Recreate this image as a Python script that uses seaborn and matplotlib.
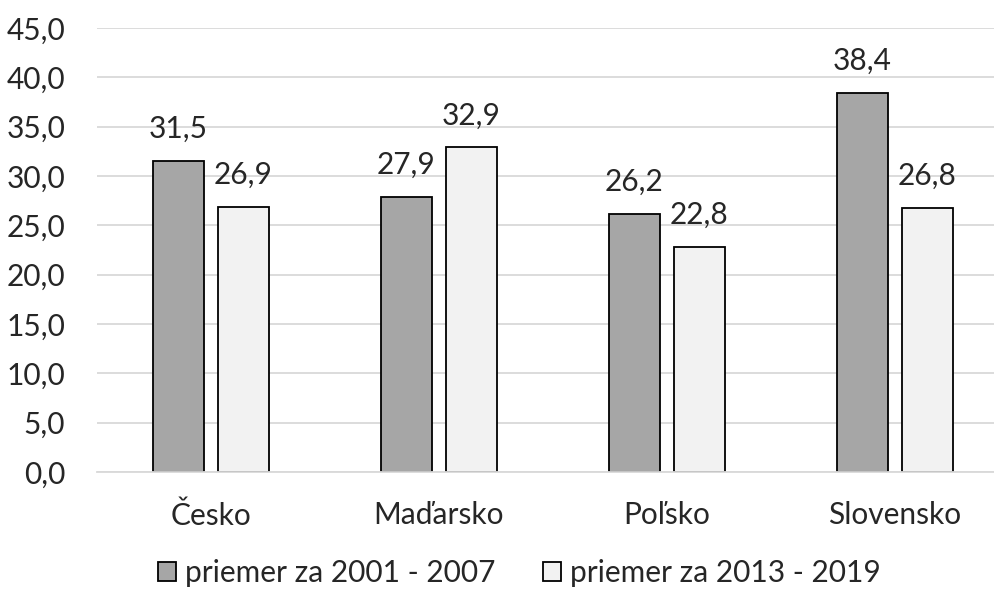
import pandas as pd
import matplotlib.pyplot as plt
import seaborn as sns

countries = ["Česko", "Maďarsko", "Poľsko", "Slovensko"]
series_names = ["priemer za 2001 - 2007", "priemer za 2013 - 2019"]
values_2001_2007 = [31.5, 27.9, 26.2, 38.4]
values_2013_2019 = [26.9, 32.9, 22.8, 26.8]
y_ticks = [0, 5, 10, 15, 20, 25, 30, 35, 40, 45]

df = pd.DataFrame({
    "krajina": countries * 2,
    "obdobie": [series_names[0]] * 4 + [series_names[1]] * 4,
    "hodnota": values_2001_2007 + values_2013_2019,
})

sns.set_style("white")
plt.rcParams['font.family'] = ['Lato', 'DejaVu Sans']
fs = 21.5

fig, ax = plt.subplots(figsize=(9.95, 5.9), dpi=100)
sns.barplot(data=df, x="krajina", y="hodnota", hue="obdobie",
            palette=["#A6A6A6", "#F2F2F2"], edgecolor="black", linewidth=1.3,
            width=0.57, gap=0.215, ax=ax, errorbar=None)

for cont in ax.containers:
    ax.bar_label(cont, labels=[f"{v:.1f}".replace(".", ",") for v in cont.datavalues],
                 padding=13, fontsize=fs)

ax.set_ylim(0, 45)
ax.set_yticks(y_ticks)
ax.set_yticklabels([f"{t:.1f}".replace(".", ",") for t in y_ticks], fontsize=fs)
ax.tick_params(axis="x", labelsize=fs, length=0, pad=21)
ax.tick_params(axis="y", length=0, pad=23)
ax.set_xlabel("")
ax.set_ylabel("")
ax.yaxis.grid(True, color="#D9D9D9", linewidth=1.3)
ax.set_axisbelow(True)
for s in ["top", "right", "left"]:
    ax.spines[s].set_visible(False)
ax.spines["bottom"].set_color("#D9D9D9")
ax.spines["bottom"].set_linewidth(1.3)

ax.legend(loc="center", bbox_to_anchor=(0.463, -0.228), ncol=2, frameon=False,
          fontsize=fs, handlelength=0.6, handleheight=0.6, handletextpad=0.3,
          columnspacing=1.6)

# plot area runs slightly past the right edge, like in the original
plt.subplots_adjust(left=0.0975, right=1.014, top=0.9525, bottom=0.2)
fig.savefig("out.png", dpi=100)
